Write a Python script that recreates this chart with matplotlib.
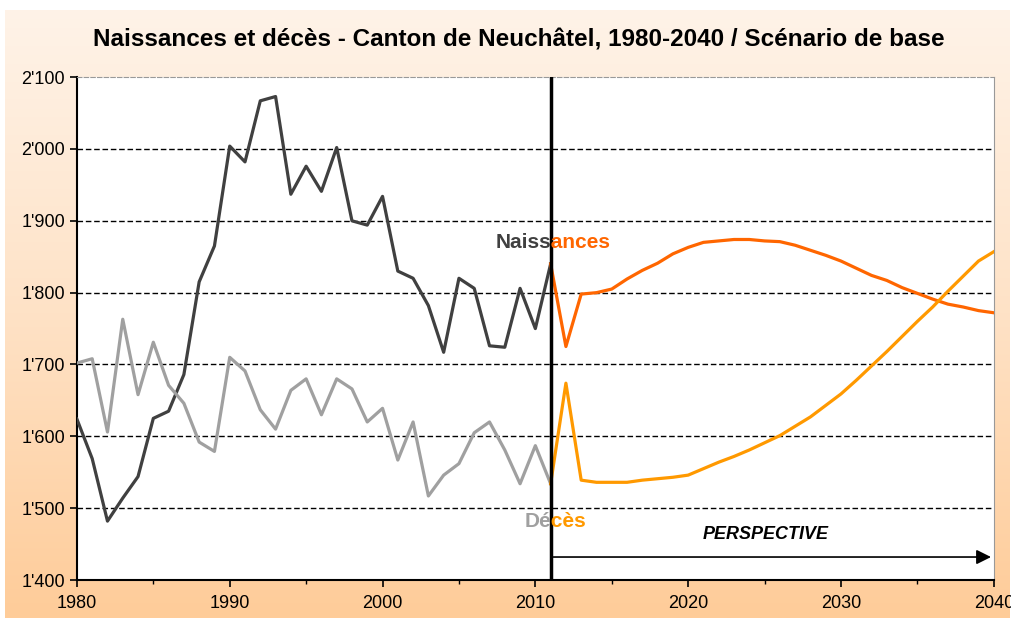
import numpy as np
import matplotlib.pyplot as plt
import matplotlib.ticker as mticker
from matplotlib.colors import LinearSegmentedColormap
from matplotlib.patches import Rectangle

plt.rcParams['font.family'] = ['Liberation Sans', 'DejaVu Sans']

# observed values 1980-2011
years_obs = list(range(1980, 2012))
naissances_obs = [1624, 1569, 1482, 1514, 1544, 1625, 1635, 1686, 1815, 1865,
                  2004, 1982, 2067, 2073, 1937, 1976, 1941, 2002, 1900, 1894,
                  1934, 1830, 1820, 1782, 1717, 1820, 1806, 1726, 1724, 1806,
                  1750, 1840]
deces_obs = [1702, 1708, 1606, 1763, 1658, 1731, 1671, 1646, 1592, 1579,
             1710, 1691, 1637, 1610, 1664, 1680, 1630, 1680, 1666, 1620,
             1639, 1567, 1620, 1517, 1546, 1562, 1605, 1620, 1581, 1534,
             1587, 1534]

# scenario 2011-2040
years_proj = list(range(2011, 2041))
naissances_proj = [1840, 1725, 1798, 1800, 1805, 1819, 1831, 1841, 1854, 1863,
                   1870, 1872, 1874, 1874, 1872, 1871, 1866, 1859, 1852, 1844,
                   1834, 1824, 1817, 1807, 1799, 1791, 1784, 1780, 1775, 1772]
deces_proj = [1534, 1674, 1539, 1536, 1536, 1536, 1539, 1541, 1543, 1546,
              1555, 1564, 1572, 1581, 1591, 1601, 1614, 1627, 1643, 1659,
              1678, 1698, 1718, 1739, 1760, 1780, 1802, 1823, 1844, 1857]

split_year = 2011

fig = plt.figure(figsize=(10.12, 6.22), dpi=100)

# peach gradient behind the chart
bg = fig.add_axes([0.005, 0.006, 0.993, 0.978], zorder=-1)
cmap = LinearSegmentedColormap.from_list('peach', ['#FFCC99', '#FEE2C6', '#FFF3E8'])
grad = np.linspace(0, 1, 256).reshape(-1, 1)
bg.imshow(grad, aspect='auto', cmap=cmap, origin='lower', extent=[0, 1, 0, 1])
bg.axis('off')

ax = fig.add_axes([0.076, 0.0675, 0.906, 0.8085])
ax.set_facecolor('white')

ax.plot(years_obs, naissances_obs, color='#404040', lw=2.3, zorder=3)
ax.plot(years_obs, deces_obs, color='#A0A0A0', lw=2.3, zorder=3)
ax.plot(years_proj, naissances_proj, color='#FF6600', lw=2.3, zorder=3)
ax.plot(years_proj, deces_proj, color='#FF9900', lw=2.3, zorder=3)

ax.set_xlim(1980, 2040)
ax.set_ylim(1400, 2100)
ax.set_xticks(range(1980, 2041, 10))
ax.xaxis.set_minor_locator(mticker.MultipleLocator(5))
ax.set_yticks(range(1400, 2101, 100))
ax.yaxis.set_major_formatter(mticker.FuncFormatter(lambda v, p: f"{int(v):,}".replace(",", "'")))
ax.tick_params(axis='both', labelsize=13, length=5, width=1.2, color='black')
ax.tick_params(axis='x', which='minor', length=3, width=1)
ax.tick_params(axis='x', pad=6)

for yv in range(1500, 2001, 100):
    ax.axhline(yv, color='black', lw=1, linestyle=(0, (4, 2)), zorder=1)

ax.spines['left'].set_linewidth(1.5)
ax.spines['bottom'].set_linewidth(1.5)
ax.spines['right'].set_color('#999999')
ax.spines['top'].set_color('#999999')
ax.spines['top'].set_linestyle((0, (4, 2)))

ax.axvline(split_year, color='black', lw=2.5, zorder=4)

ax.annotate('', xy=(2040, 1432), xytext=(split_year, 1432),
            arrowprops=dict(arrowstyle='-|>', color='black', lw=1.2, mutation_scale=22))
ax.text(2025.1, 1463, 'PERSPECTIVE', ha='center', va='center', fontsize=13,
        fontweight='bold', fontstyle='italic')

# labels coloured in two parts, split at 2011
left_clip = Rectangle((1980, 1400), split_year - 1980, 700, transform=ax.transData)
right_clip = Rectangle((split_year, 1400), 2040 - split_year, 700, transform=ax.transData)
for label, x, y, c_obs, c_proj in [('Naissances', 2011.15, 1870, '#404040', '#FF6600'),
                                   ('Décès', 2011.35, 1481, '#A0A0A0', '#FF9900')]:
    t1 = ax.text(x, y, label, ha='center', va='center', fontsize=15, fontweight='bold',
                 color=c_obs, zorder=5, clip_on=True)
    t1.set_clip_path(left_clip)
    t2 = ax.text(x, y, label, ha='center', va='center', fontsize=15, fontweight='bold',
                 color=c_proj, zorder=5, clip_on=True)
    t2.set_clip_path(right_clip)

fig.text(0.513, 0.935, 'Naissances et décès - Canton de Neuchâtel, 1980-2040 / Scénario de base',
         ha='center', va='center', fontsize=17.5, fontweight='bold')

fig.savefig('out.png', dpi=100)
